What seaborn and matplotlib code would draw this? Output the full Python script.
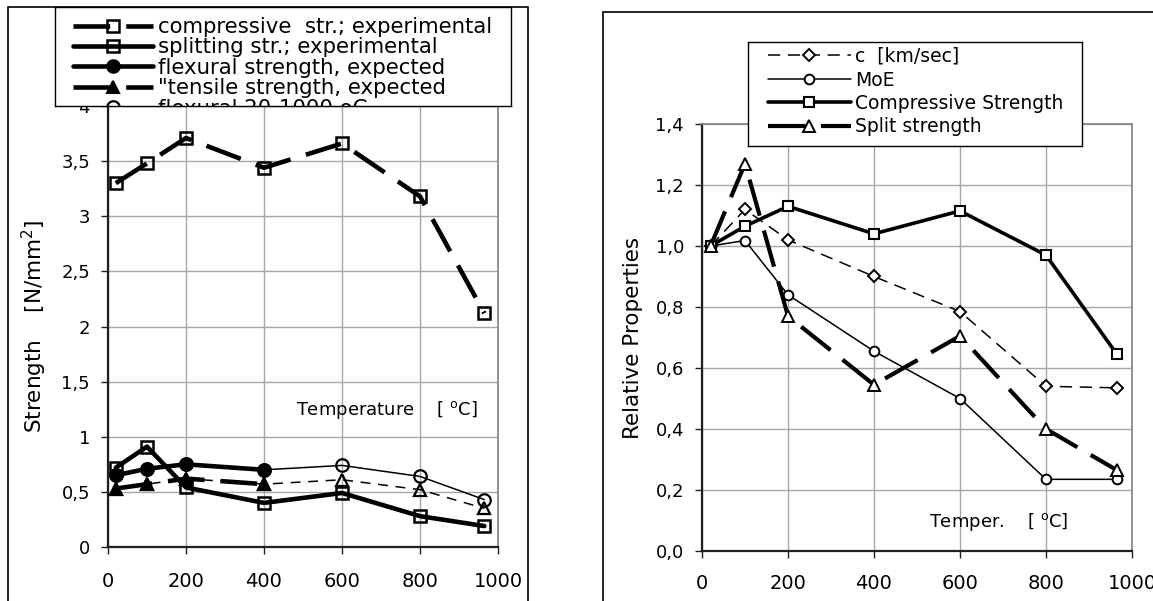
import matplotlib
matplotlib.use("Agg")
import matplotlib.pyplot as plt
import seaborn as sns
from matplotlib.patches import Rectangle

# ---------------- data ----------------
temperature = [20, 100, 200, 400, 600, 800, 965]
temperature_expected = [20, 100, 200, 400]

compressive_experimental = [3.30, 3.48, 3.71, 3.44, 3.66, 3.18, 2.12]
splitting_experimental = [0.72, 0.91, 0.54, 0.40, 0.49, 0.28, 0.19]
flexural_expected = [0.65, 0.71, 0.75, 0.70]
tensile_expected = [0.53, 0.57, 0.62, 0.57]
flexural_20_1000 = [0.65, 0.71, 0.75, 0.70, 0.74, 0.64, 0.43]
tensile_20_1000 = [0.53, 0.57, 0.62, 0.57, 0.61, 0.52, 0.35]

rel_c = [1.00, 1.12, 1.02, 0.90, 0.785, 0.54, 0.535]
rel_moe = [1.00, 1.018, 0.84, 0.655, 0.50, 0.235, 0.235]
rel_compressive = [1.00, 1.065, 1.13, 1.04, 1.115, 0.97, 0.645]
rel_split = [1.00, 1.27, 0.77, 0.545, 0.705, 0.40, 0.265]

left_labels = ["compressive  str.; experimental", "splitting str.; experimental",
               "flexural strength, expected", "\"tensile strength, expected",
               "flexural 20-1000 oC"]
right_labels = ["c  [km/sec]", "MoE", "Compressive Strength", "Split strength"]

x_ticks = [0, 200, 400, 600, 800, 1000]
x_ticklabels = ["0", "200", "400", "600", "800", "1000"]
left_yticks = [0, 0.5, 1, 1.5, 2, 2.5, 3, 3.5, 4]
left_yticklabels = ["0", "0,5", "1", "1,5", "2", "2,5", "3", "3,5", "4"]
right_yticks = [0, 0.2, 0.4, 0.6, 0.8, 1.0, 1.2, 1.4]
right_yticklabels = ["0,0", "0,2", "0,4", "0,6", "0,8", "1,0", "1,2", "1,4"]

# ---------------- style ----------------
sns.set_theme(style="ticks")
plt.rcParams["font.family"] = ["DejaVu Sans"]
plt.rcParams["mathtext.fontset"] = "dejavusans"
plt.rcParams["text.color"] = "black"
plt.rcParams["axes.labelcolor"] = "black"
plt.rcParams["xtick.color"] = "black"
plt.rcParams["ytick.color"] = "black"
plt.rcParams["legend.labelcolor"] = "black"

W, H = 1153, 601
fig = plt.figure(figsize=(W / 100, H / 100), dpi=100)
fig.patch.set_facecolor("white")


def px_rect(x0, y0, x1, y1):
    return [x0 / W, 1 - y1 / H, (x1 - x0) / W, (y1 - y0) / H]


def draw(ax, x, y, label, lw, ls, marker, ms, mfc, mew, z=2):
    sns.lineplot(x=x, y=y, ax=ax, color="black", linewidth=lw, marker=marker,
                 markersize=ms, markerfacecolor=mfc, markeredgecolor="black",
                 markeredgewidth=mew, label=label, legend=False, zorder=z,
                 estimator=None)
    line = ax.lines[-1]
    line.set_linestyle(ls)
    return line


def style_axes(ax, yticks, yticklabels, ylim, xpad):
    ax.set_xlim(0, 1000)
    ax.set_ylim(*ylim)
    ax.set_xticks(x_ticks, x_ticklabels)
    ax.set_yticks(yticks, yticklabels)
    ax.set_axisbelow(True)
    ax.grid(True, color="#a6a6a6", linewidth=1.0)
    ax.set_facecolor("white")
    for side in ("left", "bottom"):
        ax.spines[side].set_color("#202020")
        ax.spines[side].set_linewidth(1.6)
    for side in ("top", "right"):
        ax.spines[side].set_color("#8a8a8a")
        ax.spines[side].set_linewidth(1.3)
    ax.tick_params(axis="both", direction="out", length=5, width=1.0,
                   color="#202020", labelcolor="black", left=True, bottom=True)
    ax.tick_params(axis="y", labelsize=13, pad=8)
    ax.tick_params(axis="x", labelsize=14, pad=xpad)
    ax.set_xlabel("")


# ---------------- left panel ----------------
ax1 = fig.add_axes(px_rect(108, 106, 498, 547))
style_axes(ax1, left_yticks, left_yticklabels, (0, 4), 13)

l_f2 = draw(ax1, temperature, flexural_20_1000, left_labels[4], 1.1, "-", "o", 9, "none", 1.6)
l_t2 = draw(ax1, temperature, tensile_20_1000, "_tensile 20-1000", 1.1, (0, (6.5, 5)), "^", 9, "none", 1.6)
l_ce = draw(ax1, temperature, compressive_experimental, left_labels[0], 3.3, (0, (8, 3.5)), "s", 9, "none", 1.8, 3)
l_se = draw(ax1, temperature, splitting_experimental, left_labels[1], 3.3, "-", "s", 9, "none", 1.8, 3)
l_fe = draw(ax1, temperature_expected, flexural_expected, left_labels[2], 3.3, "-", "o", 9, "black", 1.5, 3)
l_te = draw(ax1, temperature_expected, tensile_expected, left_labels[3], 3.3, (0, (8, 3.5)), "^", 9, "black", 1.5, 3)

ax1.set_ylabel("Strength    [N/mm$^2$]", fontsize=15.5, labelpad=9)
ax1.text(483, 1.24, "Temperature    [ $^\\mathrm{o}$C]", fontsize=13, va="center", ha="left")

# ---------------- right panel ----------------
ax2 = fig.add_axes(px_rect(702, 124, 1132, 551))
style_axes(ax2, right_yticks, right_yticklabels, (0, 1.4), 11.5)

r_c = draw(ax2, temperature, rel_c, right_labels[0], 1.1, (0, (8, 5)), "D", 6.5, "white", 1.4)
r_m = draw(ax2, temperature, rel_moe, right_labels[1], 1.1, "-", "o", 7, "white", 1.4)
r_cs = draw(ax2, temperature, rel_compressive, right_labels[2], 2.6, "-", "s", 7, "white", 1.5)
r_sp = draw(ax2, temperature, rel_split, right_labels[3], 3.0, (0, (9, 3.7)), "^", 8, "white", 1.4)

ax2.set_ylabel("Relative Properties", fontsize=15.5, labelpad=9)
ax2.text(528, 0.094, "Temper.    [ $^\\mathrm{o}$C]", fontsize=13, va="center", ha="left")

# ---------------- legends (boxed) ----------------
def boxed_legend(rect_px, handles, labels, anchor_px, fontsize, handlelength, spacing):
    x0, y0, x1, y1 = rect_px
    lax = fig.add_axes(px_rect(x0, y0, x1, y1), zorder=5)
    lax.set_xticks([])
    lax.set_yticks([])
    lax.set_facecolor("white")
    for s in lax.spines.values():
        s.set_visible(True)
        s.set_color("black")
        s.set_linewidth(1.0)
    ax_, ay_ = anchor_px
    leg = lax.legend(handles, labels, loc="upper left",
                     bbox_to_anchor=((ax_ - x0) / (x1 - x0), 1 - (ay_ - y0) / (y1 - y0)),
                     frameon=False, fontsize=fontsize, handlelength=handlelength,
                     handletextpad=0.25, labelspacing=spacing, borderpad=0,
                     borderaxespad=0, numpoints=1)
    for t in leg.get_texts():
        t.set_color("black")
        t.set_clip_path(lax.patch)
    for h in leg.legend_handles:
        h.set_clip_path(lax.patch)
    return lax

boxed_legend((55, 7, 511, 106), [l_ce, l_se, l_fe, l_te, l_f2], left_labels,
             (73, 17), 15.3, 3.75, 0.02)
boxed_legend((748, 42, 1082, 146), [r_c, r_m, r_cs, r_sp], right_labels,
             (768, 47), 13.5, 4.4, 0.24)

# ---------------- outer chart frames ----------------
fig.add_artist(Rectangle((8 / W, -0.05), 520 / W, 1.05 - 7 / H,
                         transform=fig.transFigure, fill=False, ec="black", lw=1.2))
fig.add_artist(Rectangle((603 / W, -0.05), 0.5, 1.05 - 12 / H,
                         transform=fig.transFigure, fill=False, ec="black", lw=1.2))

fig.savefig("out.png", dpi=100, facecolor="white")
